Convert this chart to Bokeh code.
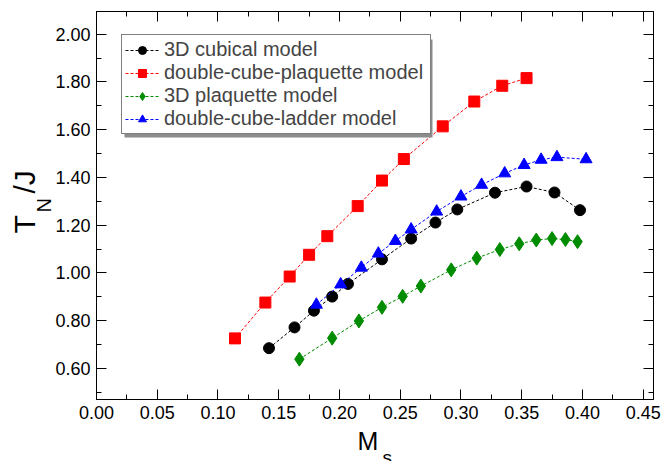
import math
from bokeh.plotting import figure
from bokeh.layouts import column, row
from bokeh.models import (Range1d, LinearAxis, SingleIntervalTicker, NumeralTickFormatter,
                          Legend, LegendItem, BoxAnnotation)
from bokeh.embed import file_html
from bokeh.resources import INLINE
from bokeh.core.properties import value

# ---- data ----
cubic_x = [0.142, 0.163, 0.179, 0.194, 0.207, 0.235, 0.259, 0.279, 0.297, 0.328, 0.354, 0.377, 0.398]
cubic_y = [0.685, 0.772, 0.842, 0.901, 0.954, 1.057, 1.144, 1.211, 1.266, 1.336, 1.362, 1.337, 1.263]

dcp_x = [0.114, 0.139, 0.159, 0.175, 0.190, 0.215, 0.235, 0.253, 0.285, 0.311, 0.334, 0.354]
dcp_y = [0.726, 0.876, 0.985, 1.076, 1.154, 1.280, 1.387, 1.477, 1.614, 1.718, 1.784, 1.816]

plaq_x = [0.167, 0.194, 0.216, 0.235, 0.252, 0.267, 0.292, 0.313, 0.332, 0.348, 0.362, 0.375, 0.386, 0.396]
plaq_y = [0.639, 0.727, 0.799, 0.856, 0.902, 0.945, 1.013, 1.062, 1.098, 1.122, 1.138, 1.144, 1.140, 1.131]

dcl_x = [0.181, 0.201, 0.218, 0.232, 0.246, 0.259, 0.280, 0.300, 0.317, 0.336, 0.352, 0.366, 0.379, 0.403]
dcl_y = [0.867, 0.952, 1.022, 1.081, 1.134, 1.182, 1.257, 1.320, 1.369, 1.417, 1.452, 1.474, 1.485, 1.476]

series_labels = ["3D cubical model", "double-cube-plaquette model",
                 "3D plaquette model", "double-cube-ladder model"]

x_title = ["M", "s"]          # M with subscript s
y_title = ["T", "N", "/J"]    # T with subscript N, then /J

FONT = "Liberation Sans"
W, H = 664, 461
YL_W = 52      # width of the y-title strip
XL_H = 35      # height of the x-title strip
MAIN_W = W - YL_W
MAIN_H = H - XL_H
FRAME_TOP, FRAME_BOTTOM = 11, 399

p = figure(width=MAIN_W, height=MAIN_H, output_backend="svg", toolbar_location=None,
           title_location=None,
           x_range=Range1d(0.0, 0.4585), y_range=Range1d(0.47, 2.095),
           min_border_left=96 - YL_W, min_border_right=11, min_border_top=FRAME_TOP,
           min_border_bottom=MAIN_H - FRAME_BOTTOM,
           x_axis_location=None, y_axis_location=None)
p.xgrid.visible = False
p.ygrid.visible = False
p.outline_line_color = "black"
p.outline_line_width = 1
p.background_fill_color = "white"
p.border_fill_color = "white"


def make_axis(kind, labels):
    if kind == "x":
        ticker = SingleIntervalTicker(interval=0.05, num_minor_ticks=2)
    else:
        ticker = SingleIntervalTicker(interval=0.2, num_minor_ticks=2)
    ax = LinearAxis(ticker=ticker, formatter=NumeralTickFormatter(format="0.00"))
    ax.axis_line_color = "black"
    ax.major_tick_line_color = "black"
    ax.minor_tick_line_color = "black"
    ax.major_tick_in = 10
    ax.major_tick_out = 0
    ax.minor_tick_in = 5
    ax.minor_tick_out = 0
    if labels:
        ax.major_label_text_font = FONT
        ax.major_label_text_font_size = "18px"
        ax.major_label_text_color = "black"
        ax.major_label_standoff = 6
    else:
        ax.major_label_text_font_size = "0px"
        ax.major_label_standoff = 0
    return ax


p.add_layout(make_axis("x", True), "below")
p.add_layout(make_axis("y", True), "left")
p.add_layout(make_axis("x", False), "above")
p.add_layout(make_axis("y", False), "right")

series = [
    (cubic_x, cubic_y, "black", "circle", 11),
    (dcp_x, dcp_y, "#ff0000", "square", 11),
    (plaq_x, plaq_y, "#008c00", "diamond", 14),
    (dcl_x, dcl_y, "#0000ff", "triangle", 12),
]

# legend shadow (offset grey box behind the legend)
shadow = BoxAnnotation(left=28, right=336, bottom=262, top=360,
                       left_units="screen", right_units="screen",
                       bottom_units="screen", top_units="screen",
                       fill_color="#8c8c8c", fill_alpha=1.0, line_color=None)
p.add_layout(shadow)

items = []
for (xs, ys, col, mk, sz), lab in zip(series, series_labels):
    lr = p.line(xs, ys, line_color=col, line_width=1, line_dash="3 2")
    sr = p.scatter(xs, ys, marker=mk, size=sz, fill_color=col, line_color=col)
    items.append(LegendItem(label=lab, renderers=[lr, sr]))

legend = Legend(items=items, location=(25, 265),
                border_line_color="black", border_line_width=1,
                background_fill_color="white", background_fill_alpha=1.0,
                label_text_font=FONT, label_text_font_size="20px",
                glyph_width=34, glyph_height=20, label_height=20, label_width=263,
                spacing=0, padding=3, margin=0, label_standoff=5)
p.add_layout(legend)


def strip(width, height, yspan):
    f = figure(width=width, height=height, output_backend="svg", toolbar_location=None,
               title_location=None,
               x_range=Range1d(0, width), y_range=Range1d(0, yspan),
               min_border=0, x_axis_location=None, y_axis_location=None)
    f.xgrid.visible = False
    f.ygrid.visible = False
    f.outline_line_color = None
    f.background_fill_color = "white"
    f.border_fill_color = "white"
    return f


# y title strip: its frame is aligned with the main frame (rows align frames),
# so the strip's y coordinate is pixels above the frame bottom.
yl = strip(YL_W, MAIN_H, FRAME_BOTTOM - FRAME_TOP)
yl.text(x=[24], y=[FRAME_BOTTOM - 233], text=[y_title[0]], angle=math.pi / 2,
        text_font=value(FONT), text_font_size=value("30px"), text_color="black",
        text_align="left", text_baseline="middle")
yl.text(x=[43.5], y=[FRAME_BOTTOM - 212], text=[y_title[1]], angle=math.pi / 2,
        text_font=value(FONT), text_font_size=value("20px"), text_color="black",
        text_align="left", text_baseline="middle")
yl.text(x=[24], y=[FRAME_BOTTOM - 193], text=[y_title[2]], angle=math.pi / 2,
        text_font=value(FONT), text_font_size=value("30px"), text_color="black",
        text_align="left", text_baseline="middle")

# x title strip (full width, y = pixels above the picture bottom)
xl = strip(W, XL_H, XL_H)
xl.text(x=[357], y=[H - 440], text=[x_title[0]],
        text_font=value(FONT), text_font_size=value("25px"), text_color="black",
        text_align="left", text_baseline="middle")
xl.text(x=[382], y=[H - 457], text=[x_title[1]],
        text_font=value(FONT), text_font_size=value("19px"), text_color="black",
        text_align="left", text_baseline="middle")

layout = column(row(yl, p, spacing=0), xl, spacing=0)

open("out.html", "w").write(file_html(layout, INLINE))
